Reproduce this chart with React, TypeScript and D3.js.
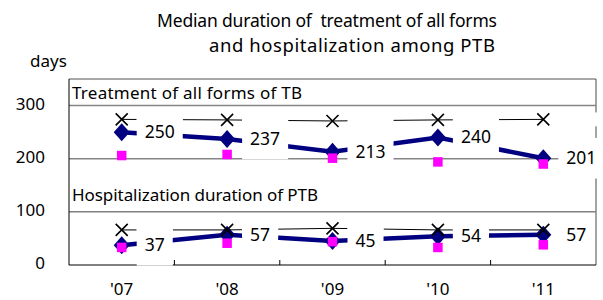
import * as d3 from "d3";
import { useEffect, useRef } from "react";

// median days
const years = ["'07", "'08", "'09", "'10", "'11"];
const treatmentMedian = [250, 237, 213, 240, 201];
const treatmentPink = [206, 208, 201, 194, 190];
const treatmentCross = [274, 273, 271, 273, 274];
const hospMedian = [37, 57, 45, 54, 57];
const hospPink = [33, 41, 44, 33, 38];
const hospCross = [66, 66, 69, 66, 66];
const yTicks = [0, 100, 200, 300];
const titleLines = ["Median duration of  treatment of all forms", "and hospitalization among PTB"];

const W = 603;
const H = 300;
const FONT = "'Noto Sans', sans-serif";

export default function App() {
  const ref = useRef<SVGSVGElement | null>(null);

  useEffect(() => {
    const svg = d3.select(ref.current);
    svg.selectAll("*").remove();
    const margin = { top: 79, right: 7, bottom: 35, left: 69 };

    const x = d3
      .scaleBand<string>()
      .domain(years)
      .range([margin.left, W - margin.right]);
    const y = d3
      .scaleLinear()
      .domain([0, 350])
      .range([H - margin.bottom, margin.top]);
    const cx = (d: string) => x(d)! + x.bandwidth() / 2;

    // title, widths
    svg
      .selectAll(".title")
      .data(titleLines)
      .enter()
      .append("text")
      .attr("x", (d, i) => (i === 0 ? 157 : 209))
      .attr("y", (d, i) => 26.5 + i * 25.5)
      .attr("textLength", (d, i) => (i === 0 ? 340 : 286))
      .attr("lengthAdjust", "spacing")
      .attr("font-family", FONT)
      .attr("font-size", (d, i) => (i === 0 ? 17.5 : 18.5))
      .attr("xml:space", "preserve")
      .style("white-space", "pre")
      .text((d) => d);

    svg
      .append("text")
      .attr("x", 30)
      .attr("y", 67)
      .attr("font-family", FONT)
      .attr("font-size", 17)
      .text("days");

    // gridlines
    svg
      .selectAll(".grid")
      .data(yTicks.filter((t) => t > 0))
      .enter()
      .append("line")
      .attr("x1", margin.left)
      .attr("x2", W - margin.right)
      .attr("y1", (d) => y(d))
      .attr("y2", (d) => y(d))
      .attr("stroke", (d) => (d === 100 ? "#404040" : "#858585"))
      .attr("stroke-width", (d) => (d === 100 ? 1 : 1.5));

    // y tick labels
    svg
      .selectAll(".ylab")
      .data(yTicks)
      .enter()
      .append("text")
      .attr("x", 45)
      .attr("y", (d) => y(d) + 4)
      .attr("text-anchor", "end")
      .attr("font-family", FONT)
      .attr("font-size", 17)
      .text((d) => d);

    // plot frame
    svg
      .append("line")
      .attr("x1", W - margin.right)
      .attr("x2", W - margin.right)
      .attr("y1", margin.top)
      .attr("y2", y(0))
      .attr("stroke", "#858585")
      .attr("stroke-width", 1.5);
    svg
      .append("line")
      .attr("x1", margin.left)
      .attr("x2", W - margin.right)
      .attr("y1", margin.top)
      .attr("y2", margin.top)
      .attr("stroke", "#505050")
      .attr("stroke-width", 1);
    svg
      .append("line")
      .attr("x1", margin.left)
      .attr("x2", margin.left)
      .attr("y1", margin.top)
      .attr("y2", y(0))
      .attr("stroke", "#000");
    svg
      .append("line")
      .attr("x1", margin.left)
      .attr("x2", W - margin.right)
      .attr("y1", y(0))
      .attr("y2", y(0))
      .attr("stroke", "#000");

    // x ticks between categories, pointing up
    svg
      .selectAll(".xtick")
      .data(years.slice(1))
      .enter()
      .append("line")
      .attr("x1", (d) => x(d)!)
      .attr("x2", (d) => x(d)!)
      .attr("y1", y(0))
      .attr("y2", y(0) - 5)
      .attr("stroke", "#000");

    svg
      .selectAll(".xlab")
      .data(years)
      .enter()
      .append("text")
      .attr("x", (d) => cx(d))
      .attr("y", 295)
      .attr("text-anchor", "middle")
      .attr("font-family", FONT)
      .attr("font-size", 17)
      .text((d) => d);

    // panel captions
    svg
      .append("text")
      .attr("x", 72)
      .attr("y", 99)
      .attr("textLength", 230)
      .attr("lengthAdjust", "spacing")
      .attr("font-family", FONT)
      .attr("font-size", 17)
      .text("Treatment of all forms of TB");
    svg
      .append("text")
      .attr("x", 72)
      .attr("y", 200.5)
      .attr("textLength", 246)
      .attr("lengthAdjust", "spacing")
      .attr("font-family", FONT)
      .attr("font-size", 17)
      .text("Hospitalization duration of PTB");

    const diamond = "M0,-9L8,0L0,9L-8,0Z";
    const cross = "M-6,-6L6,6M-6,6L6,-6";
    const line = d3
      .line<number>()
      .x((d, i) => cx(years[i]))
      .y((d) => y(d));

    const groups = [
      { median: treatmentMedian, pink: treatmentPink, cross: treatmentCross },
      { median: hospMedian, pink: hospPink, cross: hospCross },
    ];

    groups.forEach((g) => {
      svg
        .append("path")
        .datum(g.median)
        .attr("fill", "none")
        .attr("stroke", "#000080")
        .attr("stroke-width", 4.5)
        .attr("d", line);
      svg
        .append("g")
        .selectAll("path")
        .data(g.median)
        .enter()
        .append("path")
        .attr("transform", (d, i) => `translate(${cx(years[i])},${y(d)})`)
        .attr("d", diamond)
        .attr("fill", "#000080");
      svg
        .append("g")
        .selectAll("rect")
        .data(g.pink)
        .enter()
        .append("rect")
        .attr("x", (d, i) => cx(years[i]) - 4.75)
        .attr("y", (d) => y(d) - 4.75)
        .attr("width", 9.5)
        .attr("height", 9.5)
        .attr("fill", "#ff00ff");
      svg
        .append("path")
        .datum(g.cross)
        .attr("fill", "none")
        .attr("stroke", "#000")
        .attr("stroke-width", 1)
        .attr("d", line);
      svg
        .append("g")
        .selectAll("path")
        .data(g.cross)
        .enter()
        .append("path")
        .attr("transform", (d, i) => `translate(${cx(years[i])},${y(d)})`)
        .attr("d", cross)
        .attr("stroke", "#000")
        .attr("stroke-width", 1.6)
        .attr("fill", "none");

      // white label boxes, text on the median series only
      g.median.forEach((v, i) => {
        const px = cx(years[i]) + 15;
        const t = svg
          .append("text")
          .attr("font-family", FONT)
          .attr("font-size", 17.5)
          .attr("y", y(v) + 6)
          .text(v);
        const tw = (t.node() as SVGTextElement).getComputedTextLength();
        const bw = tw + 16;
        svg
          .append("rect")
          .attr("x", px)
          .attr("y", y(g.cross[i]) - 7)
          .attr("width", bw)
          .attr("height", 14)
          .attr("fill", "#fff");
        svg
          .append("rect")
          .attr("x", px)
          .attr("y", y(v) - 20.3)
          .attr("width", bw)
          .attr("height", 40.6)
          .attr("fill", "#fff");
        t.attr("x", px + 8).raise();
      });
    });
  }, []);

  return (
    <svg
      ref={ref}
      width={W}
      height={H}
      style={{ position: "absolute", left: 0, top: 0, background: "#fff" }}
    />
  );
}
